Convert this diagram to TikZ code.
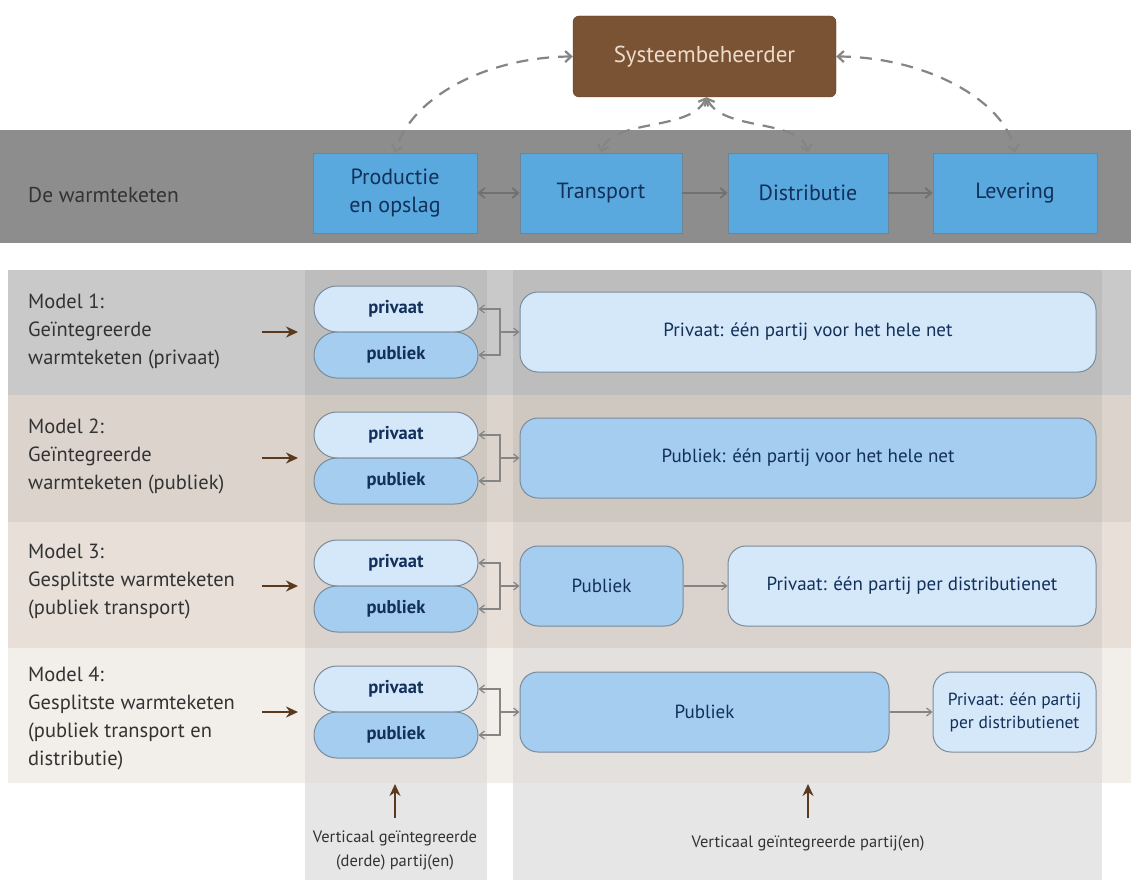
\documentclass[tikz,border=0pt]{standalone}
\usepackage{fontspec}
\setmainfont{PT Sans}
\usetikzlibrary{arrows.meta,shapes.misc}
\definecolor{sysbrown}{HTML}{7A5234}
\definecolor{systext}{HTML}{EDDCCB}
\definecolor{band}{HTML}{8D8D8D}
\definecolor{hdrblue}{HTML}{59A8DE}
\definecolor{hdrborder}{HTML}{6F8496}
\definecolor{navy}{HTML}{12305A}
\definecolor{rowA}{HTML}{C9C9C9}
\definecolor{rowB}{HTML}{DCD4CC}
\definecolor{rowC}{HTML}{E7DFD8}
\definecolor{rowD}{HTML}{F2EEEA}
\definecolor{colbot}{HTML}{E6E6E6}
\definecolor{lightblue}{HTML}{D5E8FA}
\definecolor{midblue}{HTML}{A5CDF0}
\definecolor{pillborder}{HTML}{7A8B99}
\definecolor{conngray}{HTML}{858585}
\definecolor{labelgray}{HTML}{333333}
\definecolor{arrbrown}{HTML}{5A3A1E}
\begin{document}
\begin{tikzpicture}[x=1pt,y=-1pt,
  hdr/.style={draw=hdrborder,fill=hdrblue,line width=0.8pt,minimum height=80pt,inner sep=0pt,align=center,text=navy,font=\fontsize{22}{28}\selectfont},
  pill/.style={rounded rectangle,draw=pillborder,line width=1pt,minimum width=164pt,minimum height=46pt,inner sep=0pt,text=navy,font=\fontsize{18.5}{20}\selectfont\bfseries},
  priv/.style={pill,fill=lightblue},
  publ/.style={pill,fill=midblue},
  bigbox/.style={draw=pillborder,line width=1pt,rounded corners=18pt,minimum height=80pt,inner sep=0pt,text=navy,font=\fontsize{19}{26}\selectfont,align=center},
  lbox/.style={bigbox,fill=lightblue},
  mbox/.style={bigbox,fill=midblue},
  conn/.style={draw=conngray,line width=1.2pt},
  tip/.style={-{Straight Barb[length=5pt,width=8pt]}},
  hconn/.style={draw=conngray!85!black,line width=1.8pt},
  dashc/.style={draw=conngray,line width=2.2pt,dash pattern=on 12pt off 9pt,{Straight Barb[length=6pt,width=11pt]}-{Straight Barb[length=6pt,width=11pt]}},
  brownarr/.style={draw=arrbrown,line width=2.4pt,-{Stealth[length=12pt,width=11pt]}},
  modlabel/.style={anchor=west,align=left,text=labelgray,font=\fontsize{20.5}{28}\selectfont,inner sep=0pt},
  botlabel/.style={align=center,text=labelgray,font=\fontsize{16.5}{24}\selectfont,inner sep=0pt}
]
\useasboundingbox (0,0) rectangle (1131,880);
\fill[white] (0,0) rectangle (1131,880);

% header band
\fill[band] (0,130) rectangle (1131,243);
% rows
\fill[rowA] (8,270) rectangle (1131,395);
\fill[rowB] (8,395) rectangle (1131,522);
\fill[rowC] (8,522) rectangle (1131,648);
\fill[rowD] (8,648) rectangle (1131,783);
% column stripes
\fill[black,opacity=0.055] (305,270) rectangle (487,783);
\fill[black,opacity=0.055] (513,270) rectangle (1102,783);
\fill[colbot] (305,783) rectangle (487,880);
\fill[colbot] (513,783) rectangle (1102,880);

% top
\node[draw=sysbrown!80!black,fill=sysbrown,rounded corners=6pt,minimum width=263pt,minimum height=81pt,inner sep=0pt,text=systext,font=\fontsize{23}{26}\selectfont] (sys) at (704.5,56.5) {Systeembeheerder};
\node[anchor=west,text=labelgray,font=\fontsize{21.5}{26}\selectfont,inner sep=0pt] (chain) at (28,195) {De warmteketen};

\node[hdr,minimum width=164pt] (prod) at (395,193) {Productie\\en opslag};
\node[hdr,minimum width=162pt] (trans) at (601,193) {Transport};
\node[hdr,minimum width=160pt] (dist) at (808,193) {Distributie};
\node[hdr,minimum width=164pt] (lev) at (1015,193) {Levering};

\draw[hconn,{Straight Barb[length=6pt,width=10pt]}-{Straight Barb[length=6pt,width=10pt]}] (prod.east) -- (trans.west);
\draw[hconn,-{Straight Barb[length=6pt,width=10pt]}] (trans.east) -- (dist.west);
\draw[hconn,-{Straight Barb[length=6pt,width=10pt]}] (dist.east) -- (lev.west);

\draw[dashc] (sys.west) .. controls (490,57) and (412,95) .. (prod.north);
\draw[dashc] (sys.east) .. controls (925,57) and (1005,100) .. (lev.north);
\draw[dashc] ([xshift=2pt]sys.south) .. controls (690,132) and (612,118) .. (trans.north);
\draw[dashc] ([xshift=2pt]sys.south) .. controls (722,132) and (800,118) .. (dist.north);

% rows: labels, pills, boxes
\node[modlabel] (m1) at (28,331) {Model 1:\\Geïntegreerde\\warmteketen (privaat)};
\node[modlabel] (m2) at (28,456) {Model 2:\\Geïntegreerde\\warmteketen (publiek)};
\node[modlabel] (m3) at (28,582) {Model 3:\\Gesplitste warmteketen\\(publiek transport)};
\node[modlabel] (m4) at (28,718) {Model 4:\\Gesplitste warmteketen\\(publiek transport en\\distributie)};

\foreach \i/\y in {1/332,2/458,3/586,4/712}{
  \coordinate (as\i) at (262,\y);
  \coordinate (ae\i) at (298,\y);
  \draw[brownarr] (as\i) -- (ae\i);
  \node[priv] (pv\i) at (396,\y-23) {privaat};
  \node[publ] (pb\i) at (396,\y+23) {publiek};
  \coordinate (j\i) at (500,\y);
  \draw[conn,tip] (j\i) |- (pv\i.east);
  \draw[conn,tip] (j\i) |- (pb\i.east);
}

\node[lbox,minimum width=576pt] (b1) at (808,332) {Privaat: één partij voor het hele net};
\node[mbox,minimum width=576pt] (b2) at (808,458) {Publiek: één partij voor het hele net};
\node[mbox,minimum width=163pt] (b3a) at (601.5,586) {Publiek};
\node[lbox,minimum width=368pt] (b3b) at (912,586) {Privaat: één partij per distributienet};
\node[mbox,minimum width=369pt] (b4a) at (704.5,712) {Publiek};
\node[lbox,minimum width=163pt,font=\fontsize{17.5}{23}\selectfont] (b4b) at (1014.5,712) {Privaat: één partij\\per distributienet};

\draw[conn,tip] (j1) -- (b1.west);
\draw[conn,tip] (j2) -- (b2.west);
\draw[conn,tip] (j3) -- (b3a.west);
\draw[conn,tip] (j4) -- (b4a.west);
\draw[conn,tip] (b3a.east) -- (b3b.west);
\draw[conn,tip] (b4a.east) -- (b4b.west);

% bottom
\coordinate (u1s) at (395,818);
\coordinate (u1e) at (395,784);
\coordinate (u2s) at (808,818);
\coordinate (u2e) at (808,784);
\draw[brownarr] (u1s) -- (u1e);
\draw[brownarr] (u2s) -- (u2e);
\node[botlabel] (v1) at (395,850) {Verticaal geïntegreerde\\(derde) partij(en)};
\node[botlabel] (v2) at (808,843) {Verticaal geïntegreerde partij(en)};
\end{tikzpicture}
\end{document}
